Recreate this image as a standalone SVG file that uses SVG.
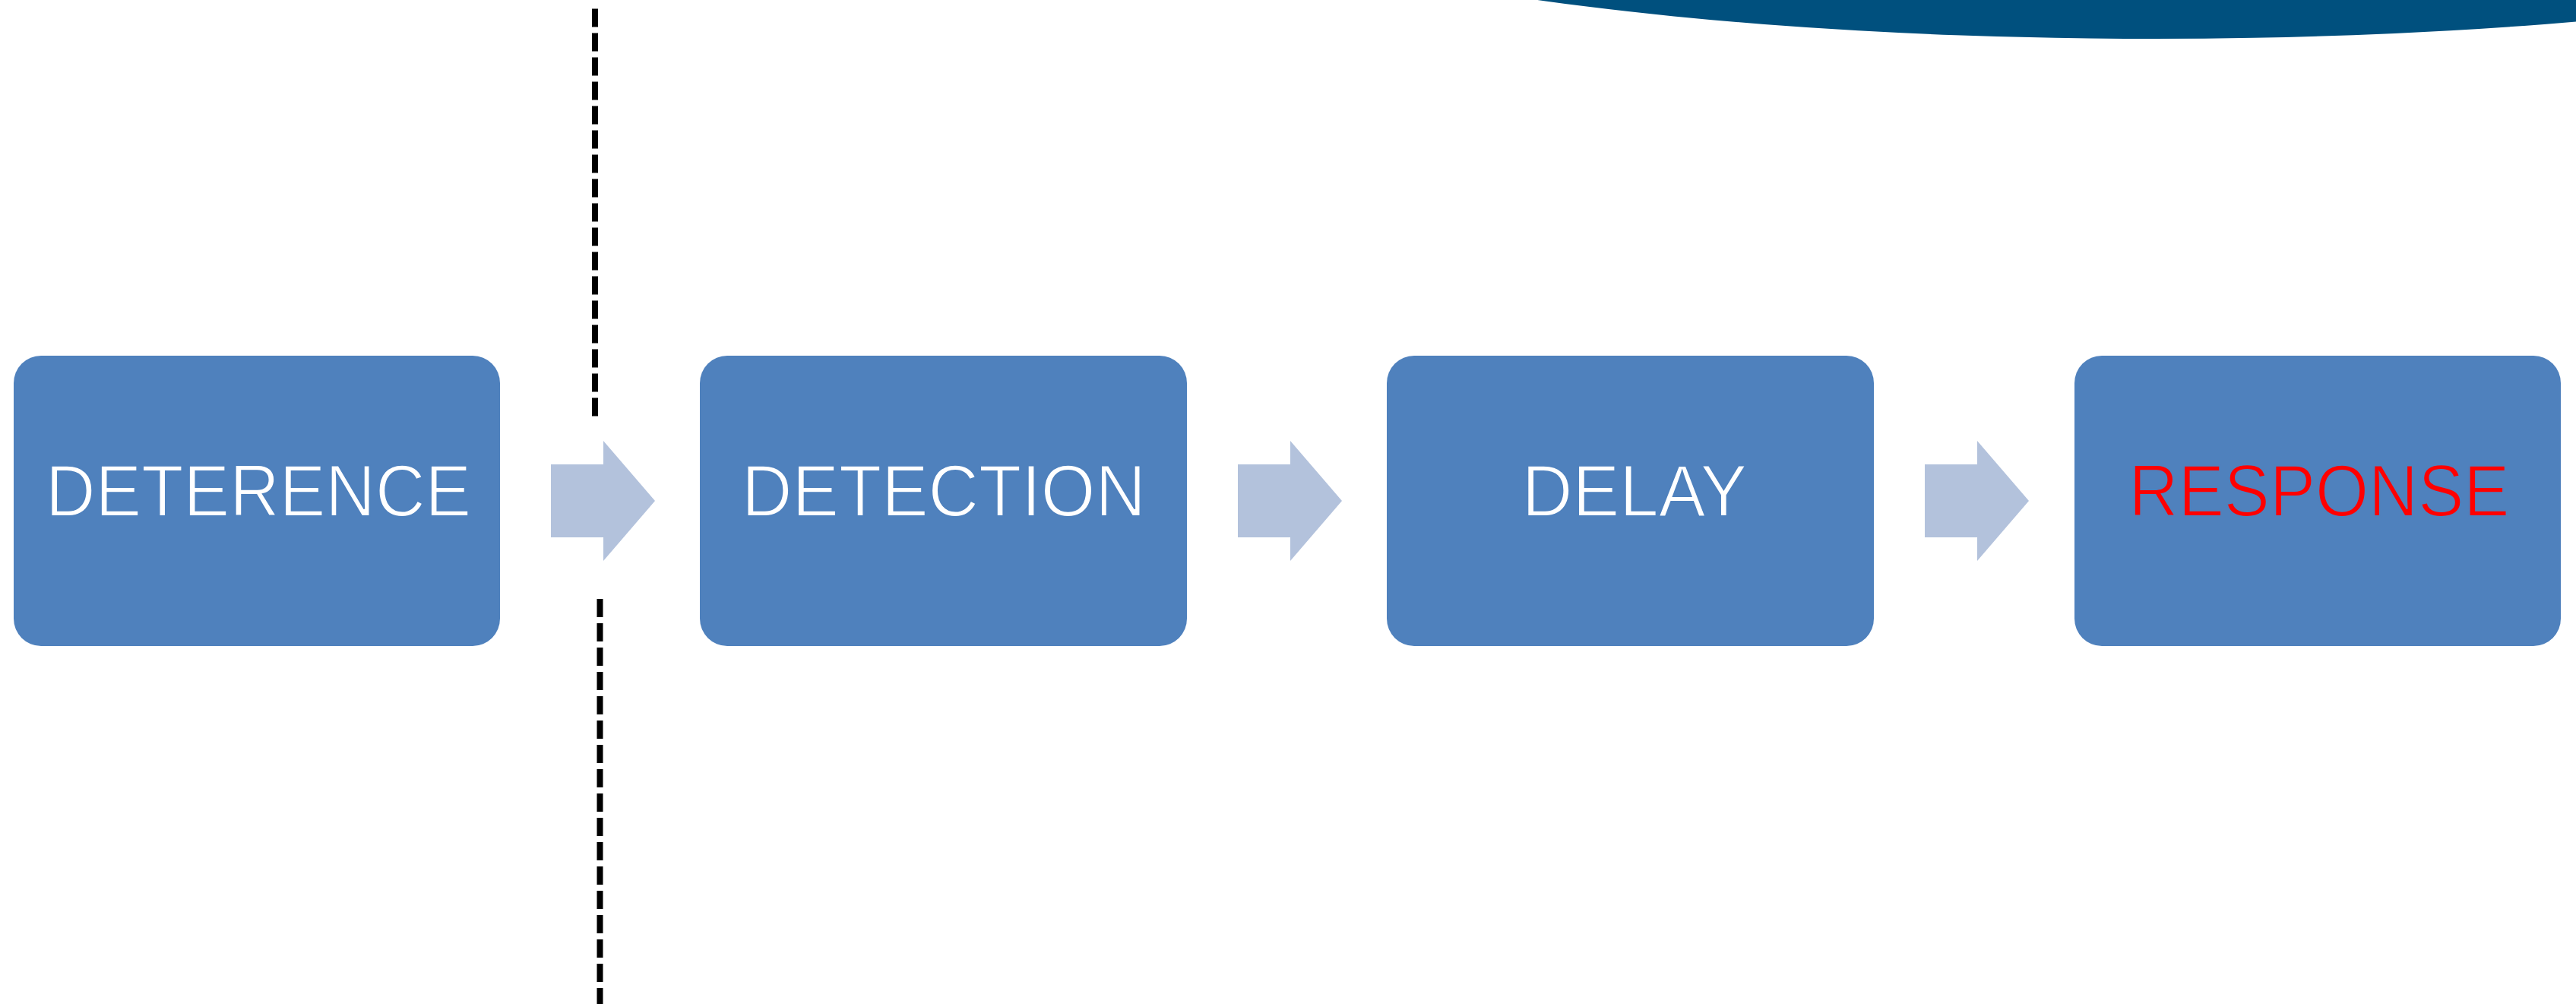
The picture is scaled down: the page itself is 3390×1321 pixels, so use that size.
<svg xmlns="http://www.w3.org/2000/svg" width="3390" height="1321" viewBox="0 0 3390 1321">
  <style>
    .box { fill: #4F81BD; }
    .lbl { font-family: "Liberation Sans", Arial, sans-serif; font-size: 96px; fill: #FFFFFF; text-anchor: middle; stroke: #4F81BD; stroke-width: 2; }
    .red { fill: #FF0000; }
    .arrow { fill: #B3C2DC; }
    .dash { stroke: #000000; stroke-width: 8; stroke-dasharray: 24 8; fill: none; }
  </style>
  <defs>
    <polygon id="arrowShape" class="arrow" points="0,611 69,611 69,580 137,659 69,738 69,707 0,707"/>
  </defs>
  <rect width="3390" height="1321" fill="#FFFFFF"/>
  <g id="banner">
    <ellipse cx="2835" cy="-199" rx="1341" ry="250" fill="#00507E"/>
  </g>
  <g id="divider">
    <line class="dash" x1="783" y1="11.5" x2="783" y2="548"/>
    <line class="dash" x1="789.5" y1="788" x2="789.5" y2="1321"/>
  </g>
  <g id="connectors">
    <use href="#arrowShape" x="725"/>
    <use href="#arrowShape" x="1629"/>
    <use href="#arrowShape" x="2533"/>
  </g>
  <g id="node-deterence">
    <rect class="box" x="18" y="468" width="640" height="382" rx="36" ry="36"/>
    <text class="lbl" transform="translate(340,679) scale(0.946,1)">DETERENCE</text>
  </g>
  <g id="node-detection">
    <rect class="box" x="921" y="468" width="641" height="382" rx="36" ry="36"/>
    <text class="lbl" transform="translate(1242,679) scale(0.959,1)">DETECTION</text>
  </g>
  <g id="node-delay">
    <rect class="box" x="1825" y="468" width="641" height="382" rx="36" ry="36"/>
    <text class="lbl" transform="translate(2151,679) scale(0.963,1)">DELAY</text>
  </g>
  <g id="node-response">
    <rect class="box" x="2730" y="468" width="640" height="382" rx="36" ry="36"/>
    <text class="lbl red" transform="translate(3052,679) scale(0.939,1)">RESPONSE</text>
  </g>
</svg>
